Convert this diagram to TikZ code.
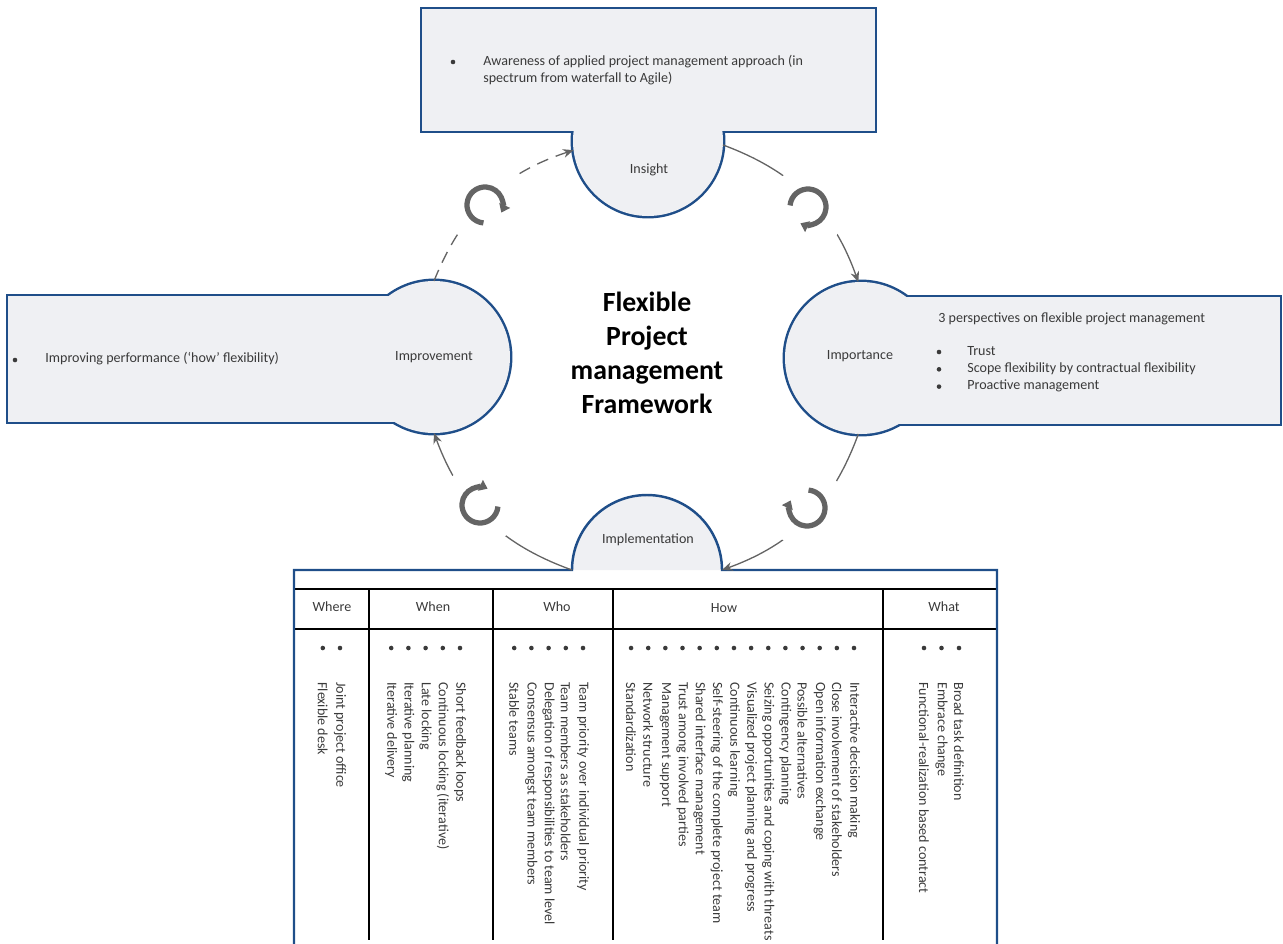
\documentclass[tikz,border=0pt]{standalone}
\usepackage{fontspec}
\setmainfont{Carlito}
\usetikzlibrary{arrows.meta}
\definecolor{rimblue}{HTML}{1F4E89}
\definecolor{panegray}{HTML}{EFF0F3}
\definecolor{linkgray}{HTML}{646464}
\definecolor{textgray}{HTML}{3A3A3A}
\newcommand{\bodysize}{\fontsize{8}{9.75}\selectfont}
\newcommand{\spinrad}{18}

\tikzset{
  rim/.style={draw=rimblue, line width=2.8pt},
  pane/.style={fill=panegray},
  phase/.style={circle, inner sep=0pt, outer sep=0pt, minimum size=30mm, text=textgray, font=\bodysize},
  txt/.style={text=textgray, font=\bodysize, inner sep=0pt},
  link/.style={draw=linkgray, line width=0.75pt, -{Stealth[length=6pt, width=5pt]}},
  spinbg/.style={circle, fill=white, minimum size=16mm, inner sep=0pt},
  spin/.style={draw=linkgray, line width=1.05mm, -{Triangle[length=1.6mm, width=2.3mm]}},
  rule/.style={draw=black, line width=0.6pt},
}

\begin{document}
\begin{tikzpicture}[x=0.2mm, y=-0.2mm]
  \useasboundingbox (0,0) rectangle (1283,943);

  % outlines first, panes on top
  \path[rim] (422,9) rectangle (875,131);
  \path[rim] (648,141) circle[radius=75];
  \path[rim] (8,296) rectangle (434,422);
  \path[rim] (434,357) circle[radius=76];
  \path[rim] (861,297) rectangle (1280,424);
  \path[rim] (861,358) circle[radius=76];
  \path[pane] (422,9) rectangle (875,131);
  \path[pane] (648,141) circle[radius=75];
  \path[pane] (8,296) rectangle (434,422);
  \path[pane] (434,357) circle[radius=76];
  \path[pane] (861,297) rectangle (1280,424);
  \path[pane] (861,358) circle[radius=76];

  \node[phase] (insight) at (648,141) {};
  \node[phase, minimum size=30.4mm] (impr) at (434,357) {Improvement};
  \node[phase, minimum size=30.4mm] (imp) at (861,358) {};
  \node[phase] (impl) at (647,570) {};

  \node[txt] (insighttxt) at (649,170) {Insight};
  \node[txt] (imptxt) at (860,356) {Importance};

  % insight box
  \fill[textgray] (453,62) circle[radius=2.3];
  \node[txt, anchor=west, align=left] (aware) at (483,70)
    {Awareness of applied project management approach (in\\spectrum from waterfall to Agile)};

  % improvement box
  \fill[textgray] (15,360) circle[radius=2.3];
  \node[txt, anchor=west] (perf) at (45,359) {Improving performance (‘how’ flexibility)};

  % importance box
  \node[txt, anchor=west] (imphead) at (938,319) {3 perspectives on flexible project management};
  \foreach \t [count=\i, evaluate=\i as \y using 352+17.3*(\i-1)] in
    {Trust, Scope flexibility by contractual flexibility, Proactive management} {
    \fill[textgray] (939,\y) circle[radius=2.3];
    \node[txt, anchor=west] (persp\i) at (967,\y-1) {\t};
  }

  % implementation + table
  \path[pane] (impl.west) arc[start angle=180, end angle=360, radius=75] -- cycle;
  \node[txt] (impltxt) at (648,540) {Implementation};
  \draw[rule] (294,589) -- (997,589);
  \draw[rule] (294,629) -- (997,629);
  \foreach \x in {369,493,613,883}
    \draw[rule] (\x,589) -- (\x,940);
  \draw[rimblue, line width=1.4pt] (294,945) -- (294,570) -- (impl.west)
    arc[start angle=180, end angle=360, radius=75] -- (997,570) -- (997,945);

  \node[txt] (where) at (332,607) {Where};
  \node[txt] (when) at (433,607) {When};
  \node[txt] (who) at (557,607) {Who};
  \node[txt] (how) at (724,608) {How};
  \node[txt] (what) at (944,607) {What};

  \foreach \t [count=\i, evaluate=\i as \x using 340-17.2*(\i-1)] in
    {Joint project office, Flexible desk} {
    \fill[textgray] (\x,648) circle[radius=2.3];
    \node[txt, rotate=-90, anchor=west] (where\i) at (\x,682) {\t};
  }
  \foreach \t [count=\i, evaluate=\i as \x using 460-17.2*(\i-1)] in
    {Short feedback loops, Continuous locking (iterative), Late locking,
     Iterative planning, Iterative delivery} {
    \fill[textgray] (\x,648) circle[radius=2.3];
    \node[txt, rotate=-90, anchor=west] (when\i) at (\x,682) {\t};
  }
  \foreach \t [count=\i, evaluate=\i as \x using 583-17.2*(\i-1)] in
    {Team priority over individual priority, Team members as stakeholders,
     Delegation of responsibilities to team level, Consensus amongst team members,
     Stable teams} {
    \fill[textgray] (\x,648) circle[radius=2.3];
    \node[txt, rotate=-90, anchor=west] (who\i) at (\x,682) {\t};
  }
  \foreach \t [count=\i, evaluate=\i as \x using 854-17.15*(\i-1)] in
    {Interactive decision making, Close involvement of stakeholders,
     Open information exchange, Possible alternatives, Contingency planning,
     Seizing opportunities and coping with threats,
     Visualized project planning and progress, Continuous learning,
     Self-steering of the complete project team, Shared interface management,
     Trust among involved parties, Management support, Network structure,
     Standardization} {
    \fill[textgray] (\x,648) circle[radius=2.3];
    \node[txt, rotate=-90, anchor=west] (how\i) at (\x,682) {\t};
  }
  \foreach \t [count=\i, evaluate=\i as \x using 959-17.5*(\i-1)] in
    {Broad task definition, Embrace change, Functional-realization based contract} {
    \fill[textgray] (\x,648) circle[radius=2.3];
    \node[txt, rotate=-90, anchor=west] (what\i) at (\x,682) {\t};
  }

  % title
  \node[font=\fontsize{15.8}{19.3}\selectfont\bfseries, align=center, inner sep=0pt] (title)
    at (647,353) {Flexible\\Project\\management\\Framework};

  % cycle
  \draw[link, dash pattern=on 2.4mm off 1.6mm] (impr.north) to[bend left=25] (insight.187);
  \draw[link] (insight.357) to[bend left=25] (imp.92);
  \draw[link] (imp.268) to[bend left=25] (impl.east);
  \draw[link] (impl.west) to[bend left=25] (impr.south);

  \node[spinbg] (spin1) at (485,205) {};
  \node[spinbg] (spin2) at (808,207) {};
  \node[spinbg] (spin3) at (807,508) {};
  \node[spinbg] (spin4) at (480,505) {};
  \draw[spin] (spin1.center) ++(95:\spinrad) arc[start angle=95, end angle=385, radius=\spinrad];
  \draw[spin] (spin2.center) ++(185:\spinrad) arc[start angle=185, end angle=475, radius=\spinrad];
  \draw[spin] (spin3.center) ++(275:\spinrad) arc[start angle=275, end angle=565, radius=\spinrad];
  \draw[spin] (spin4.center) ++(5:\spinrad) arc[start angle=5, end angle=295, radius=\spinrad];

\end{tikzpicture}
\end{document}
